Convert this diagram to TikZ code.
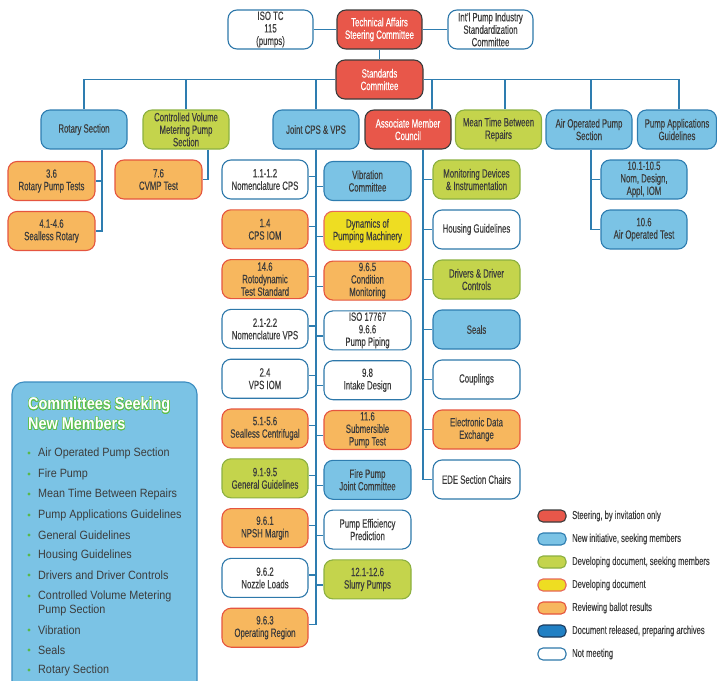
\documentclass[tikz,border=0pt]{standalone}
\usepackage{fontspec}
\setmainfont{Liberation Sans}
\newfontfamily\boxfont{Liberation Sans}[FakeStretch=0.65, FakeBold=0.3]
\newfontfamily\keyfont{Liberation Sans}[FakeStretch=0.66, FakeBold=0.2]
\newfontfamily\listfont{Liberation Sans}[FakeStretch=0.9]
\newfontfamily\headfont{Liberation Sans}[FakeStretch=0.85]
\usepackage{contour}
\contourlength{0.6pt}

\definecolor{redfill}{HTML}{E8574A}
\definecolor{redline}{HTML}{3C3C3C}
\definecolor{bluefill}{HTML}{7BC3E5}
\definecolor{blueline}{HTML}{2E7DB0}
\definecolor{greenfill}{HTML}{C4D44C}
\definecolor{greenline}{HTML}{8CB040}
\definecolor{yellowfill}{HTML}{EEDD22}
\definecolor{yellowline}{HTML}{E8685A}
\definecolor{orangefill}{HTML}{F7B75E}
\definecolor{orangeline}{HTML}{E5553F}
\definecolor{darkfill}{HTML}{2180C4}
\definecolor{darkline}{HTML}{1B3A5C}
\definecolor{idleline}{HTML}{2E78AA}
\definecolor{linkblue}{HTML}{2E7DB0}
\definecolor{boxtext}{HTML}{3C3C3C}
\definecolor{panelline}{HTML}{3B8CC0}
\definecolor{titlegreen}{HTML}{5DBE4A}
\definecolor{bulgreen}{HTML}{58B947}

\tikzset{
  box/.style={rounded corners=9pt, minimum width=86pt, minimum height=39pt,
    inner sep=1pt, align=center, line width=1.1pt, text=boxtext,
    font={\boxfont\fontsize{12}{12.5}\selectfont}},
  redcol/.style={fill=redfill, draw=redline},
  bluecol/.style={fill=bluefill, draw=blueline},
  greencol/.style={fill=greenfill, draw=greenline},
  yellowcol/.style={fill=yellowfill, draw=yellowline},
  orangecol/.style={fill=orangefill, draw=orangeline},
  darkcol/.style={fill=darkfill, draw=darkline},
  idlecol/.style={fill=white, draw=idleline},
  steer/.style={box, redcol, text=white},
  newinit/.style={box, bluecol},
  devseek/.style={box, greencol},
  devdoc/.style={box, yellowcol},
  review/.style={box, orangecol},
  idle/.style={box, idlecol},
  link/.style={draw=linkblue, line width=1.2pt},
  swatch/.style={rounded corners=5pt, minimum width=28pt, minimum height=12pt,
    inner sep=0pt, line width=1.1pt},
  keytext/.style={anchor=west, inner sep=0pt, text=boxtext,
    font={\keyfont\fontsize{11.5}{13}\selectfont}},
  memb/.style={anchor=west, inner sep=0pt, align=left, text=boxtext,
    font={\listfont\fontsize{12}{14}\selectfont}}
}

\begin{document}
\begin{tikzpicture}[x=1pt, y=-1pt]
  \useasboundingbox (0,0) rectangle (717,680);

  % Top row
  \node[idle, minimum width=85pt] (iso) at (270.5,29.5) {ISO TC\\115\\(pumps)};
  \node[steer, minimum width=85pt] (tasc) at (379.5,29.5) {Technical Affairs\\Steering Committee};
  \node[idle, minimum width=85pt] (ipisc) at (490.5,29.5) {Int’l Pump Industry\\Standardization\\Committee};
  \node[steer, minimum width=87pt] (std) at (379.5,79.5) {Standards\\Committee};

  % Sections
  \node[newinit] (rot) at (84,129.5) {Rotary Section};
  \node[devseek] (cvmp) at (186,129.5) {Controlled Volume\\Metering Pump\\Section};
  \node[newinit] (joint) at (316,129.5) {Joint CPS \& VPS};
  \node[steer] (amc) at (408,129.5) {Associate Member\\Council};
  \node[devseek] (mtbr) at (498.5,129.5) {Mean Time Between\\Repairs};
  \node[newinit] (aop) at (589,129.5) {Air Operated Pump\\Section};
  \node[newinit, minimum width=79pt] (pag) at (677,129.5) {Pump Applications\\Guidelines};

  % Rotary and CVMP
  \node[review, minimum width=87pt] (rpt) at (51.5,181) {3.6\\Rotary Pump Tests};
  \node[review, minimum width=87pt] (slr) at (51.5,231) {4.1-4.6\\Sealless Rotary};
  \node[review, minimum width=87pt] (cvt) at (158.5,179.5) {7.6\\CVMP Test};

  % Joint CPS & VPS, left column
  \node[idle] (cps) at (265,179.5) {1.1-1.2\\Nomenclature CPS};
  \node[review] (cpsiom) at (265,229.3) {1.4\\CPS IOM};
  \node[review] (roto) at (265,279.1) {14.6\\Rotodynamic\\Test Standard};
  \node[idle] (vps) at (265,328.9) {2.1-2.2\\Nomenclature VPS};
  \node[idle] (vpsiom) at (265,378.7) {2.4\\VPS IOM};
  \node[review] (slc) at (265,428.5) {5.1-5.6\\Sealless Centrifugal};
  \node[devseek] (gen) at (265,478.3) {9.1-9.5\\General Guidelines};
  \node[review] (npsh) at (265,528.1) {9.6.1\\NPSH Margin};
  \node[idle] (noz) at (265,577.9) {9.6.2\\Nozzle Loads};
  \node[review] (opr) at (265,627.7) {9.6.3\\Operating Region};

  % Joint CPS & VPS, right column
  \node[newinit, minimum width=87pt] (vib) at (367.5,181) {Vibration\\Committee};
  \node[devdoc, minimum width=87pt] (dyn) at (367.5,230.8) {Dynamics of\\Pumping Machinery};
  \node[review, minimum width=87pt] (cond) at (367.5,280.6) {9.6.5\\Condition\\Monitoring};
  \node[idle, minimum width=87pt] (pip) at (367.5,330.4) {ISO 17767\\9.6.6\\Pump Piping};
  \node[idle, minimum width=87pt] (intk) at (367.5,380.2) {9.8\\Intake Design};
  \node[review, minimum width=87pt] (sub) at (367.5,430) {11.6\\Submersible\\Pump Test};
  \node[newinit, minimum width=87pt] (fire) at (367.5,479.8) {Fire Pump\\Joint Committee};
  \node[idle, minimum width=87pt] (eff) at (367.5,529.6) {Pump Efficiency\\Prediction};
  \node[devseek, minimum width=87pt] (slur) at (367.5,579.4) {12.1-12.6\\Slurry Pumps};

  % Associate Member Council column
  \node[devseek, minimum width=87pt] (mon) at (476.5,179.5) {Monitoring Devices\\\& Instrumentation};
  \node[idle, minimum width=87pt] (hous) at (476.5,229.5) {Housing Guidelines};
  \node[devseek, minimum width=87pt] (drv) at (476.5,279.5) {Drivers \& Driver\\Controls};
  \node[newinit, minimum width=87pt] (seal) at (476.5,329.5) {Seals};
  \node[idle, minimum width=87pt] (coup) at (476.5,379.5) {Couplings};
  \node[review, minimum width=87pt] (ede) at (476.5,429.5) {Electronic Data\\Exchange};
  \node[idle, minimum width=87pt] (edec) at (476.5,479.5) {EDE Section Chairs};

  % Air Operated Pump column
  \node[newinit] (nom) at (644,179.5) {10.1-10.5\\Nom, Design,\\Appl, IOM};
  \node[newinit] (aot) at (644,229.5) {10.6\\Air Operated Test};

  % Connectors
  \draw[link] (iso) -- (tasc) (tasc) -- (ipisc) (tasc) -- (std);
  \draw[link] (std.west) -| (rot.north) (std.west) -| (cvmp.north) (std.west) -| (joint.north);
  \draw[link] (std.east) -| ([xshift=24pt]amc.north) (std.east) -| ([xshift=6.5pt]mtbr.north)
    (std.east) -| ([xshift=2pt]aop.north) (std.east) -| ([xshift=2pt]pag.north);
  \draw[link] ([xshift=18pt]rot.south) |- (rpt.east) ([xshift=18pt]rot.south) |- (slr.east);
  \draw[link] ([xshift=22pt]cvmp.south) |- (cvt.east);
  \draw[link] (joint.south) |- ([yshift=3pt]cps.east) (joint.south) |- ([yshift=3pt]cpsiom.east)
    (joint.south) |- ([yshift=3pt]roto.east) (joint.south) |- ([yshift=3pt]vps.east)
    (joint.south) |- ([yshift=3pt]vpsiom.east) (joint.south) |- ([yshift=3pt]slc.east)
    (joint.south) |- ([yshift=3pt]gen.east) (joint.south) |- ([yshift=3pt]npsh.east)
    (joint.south) |- ([yshift=3pt]noz.east) (joint.south) |- ([yshift=3pt]opr.east);
  \draw[link] (joint.south) |- ([yshift=-5.5pt]vib.west) (joint.south) |- ([yshift=-5.5pt]dyn.west)
    (joint.south) |- ([yshift=-5.5pt]cond.west) (joint.south) |- ([yshift=-5.5pt]pip.west)
    (joint.south) |- ([yshift=-5.5pt]intk.west) (joint.south) |- ([yshift=-5.5pt]sub.west)
    (joint.south) |- ([yshift=-5.5pt]fire.west) (joint.south) |- ([yshift=-5.5pt]eff.west)
    (joint.south) |- ([yshift=-5.5pt]slur.west);
  \draw[link] ([xshift=15pt]amc.south) |- (mon.west) ([xshift=15pt]amc.south) |- (hous.west)
    ([xshift=15pt]amc.south) |- (drv.west) ([xshift=15pt]amc.south) |- (seal.west)
    ([xshift=15pt]amc.south) |- (coup.west) ([xshift=15pt]amc.south) |- (ede.west)
    ([xshift=15pt]amc.south) |- (edec.west);
  \draw[link] ([xshift=2pt]aop.south) |- (nom.west) ([xshift=2pt]aop.south) |- (aot.west);

  % Committees seeking new members
  \draw[rounded corners=12pt, fill=bluefill, draw=panelline, line width=1.1pt] (12,382) rectangle (197,694);
  \node[anchor=west, inner sep=0pt, align=left, text=white,
    font={\headfont\bfseries\fontsize{17}{20}\selectfont}] (ctitle) at (28,414)
    {\contour{titlegreen}{Committees Seeking}\\\contour{titlegreen}{New Members}};
  \node[memb] (m1) at (38,453) {Air Operated Pump Section};
  \node[memb] (m2) at (38,474) {Fire Pump};
  \node[memb] (m3) at (38,494) {Mean Time Between Repairs};
  \node[memb] (m4) at (38,515) {Pump Applications Guidelines};
  \node[memb] (m5) at (38,535) {General Guidelines};
  \node[memb] (m6) at (38,555) {Housing Guidelines};
  \node[memb] (m7) at (38,575) {Drivers and Driver Controls};
  \node[memb] (m8) at (38,603) {Controlled Volume Metering\\Pump Section};
  \node[memb] (m9) at (38,630) {Vibration};
  \node[memb] (m10) at (38,650) {Seals};
  \node[memb] (m11) at (38,670) {Rotary Section};
  \fill[bulgreen] ([xshift=-9pt]m1.west) circle (1.6pt) ([xshift=-9pt]m2.west) circle (1.6pt)
    ([xshift=-9pt]m3.west) circle (1.6pt) ([xshift=-9pt]m4.west) circle (1.6pt)
    ([xshift=-9pt]m5.west) circle (1.6pt) ([xshift=-9pt]m6.west) circle (1.6pt)
    ([xshift=-9pt]m7.west) circle (1.6pt) ([xshift=-9pt, yshift=7pt]m8.west) circle (1.6pt)
    ([xshift=-9pt]m9.west) circle (1.6pt) ([xshift=-9pt]m10.west) circle (1.6pt)
    ([xshift=-9pt]m11.west) circle (1.6pt);

  % Legend
  \node[swatch, redcol] (k1) at (552,516) {};
  \node[swatch, bluecol] (k2) at (552,539) {};
  \node[swatch, greencol] (k3) at (552,562) {};
  \node[swatch, yellowcol] (k4) at (552,585) {};
  \node[swatch, orangecol] (k5) at (552,608) {};
  \node[swatch, darkcol] (k6) at (552,631) {};
  \node[swatch, idlecol] (k7) at (552,654) {};
  \node[keytext] (t1) at (572,516) {Steering, by invitation only};
  \node[keytext] (t2) at (572,539) {New initiative, seeking members};
  \node[keytext] (t3) at (572,562) {Developing document, seeking members};
  \node[keytext] (t4) at (572,585) {Developing document};
  \node[keytext] (t5) at (572,608) {Reviewing ballot results};
  \node[keytext] (t6) at (572,631) {Document released, preparing archives};
  \node[keytext] (t7) at (572,654) {Not meeting};
\end{tikzpicture}
\end{document}
